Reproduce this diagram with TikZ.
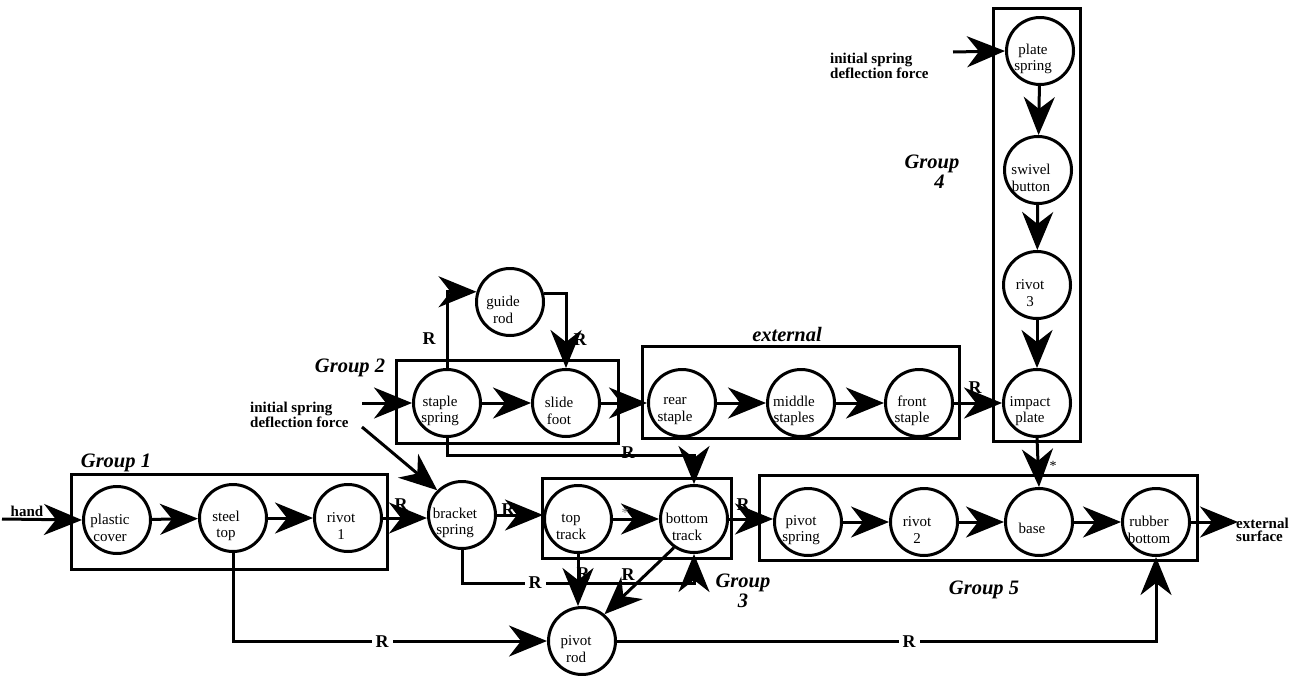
\documentclass[tikz,border=0pt]{standalone}
\usepackage{fontspec}
\setmainfont{Liberation Serif}
\usetikzlibrary{arrows.meta}
\begin{document}
\begin{tikzpicture}[x=1pt,y=-1pt,
 circ/.style={circle,draw,line width=3pt,minimum size=67pt,inner sep=0pt},
 lbl/.style={font=\fontsize{15}{16.5}\selectfont,align=center,xshift=-7pt,yshift=-8pt},
 grp/.style={draw,line width=3pt},
 arr/.style={line width=3pt,-{Stealth[length=38pt,width=31pt,inset=12pt]}},
 rl/.style={font=\fontsize{18}{18}\selectfont\bfseries,inner sep=0pt},
 rlw/.style={font=\fontsize{18}{18}\selectfont\bfseries,fill=white,inner sep=4pt},
 gl/.style={font=\fontsize{20.5}{20.5}\selectfont\bfseries\itshape,align=center,inner sep=0pt},
 bl/.style={font=\fontsize{15}{13.5}\selectfont\bfseries,align=left,inner sep=0pt},
 st/.style={font=\fontsize{14}{14}\selectfont,inner sep=0pt}
]
\useasboundingbox (0,0) rectangle (1298,675);

% group boxes
\draw[grp] (71,474) rectangle (387,569);
\draw[grp] (396,360) rectangle (618,443);
\draw[grp] (642,346) rectangle (959,438);
\draw[grp] (542,478) rectangle (731,558);
\draw[grp] (993,8) rectangle (1080,441);
\draw[grp] (759,475) rectangle (1197,560);

% circles
\node[circ,label={[lbl]center:{plastic\\cover}}] (plastic) at (117,520) {};
\node[circ,label={[lbl]center:{steel\\top}}] (steel) at (233,518) {};
\node[circ,label={[lbl]center:{rivot\\1}}] (rivot1) at (348,518) {};
\node[circ,label={[lbl]center:{bracket\\spring}}] (bracket) at (462,515) {};
\node[circ,label={[lbl]center:{top\\track}}] (toptrack) at (578,519) {};
\node[circ,label={[lbl]center:{bottom\\track}}] (bottom) at (694,519) {};
\node[circ,label={[lbl]center:{pivot\\spring}}] (pspring) at (808,522) {};
\node[circ,label={[lbl]center:{rivot\\2}}] (rivot2) at (924,522) {};
\node[circ,label={[lbl,yshift=2pt]center:{base}}] (base) at (1039,522) {};
\node[circ,label={[lbl]center:{rubber\\bottom}}] (rubber) at (1156,522) {};
\node[circ,label={[lbl]center:{staple\\spring}}] (staple) at (447,403) {};
\node[circ,label={[lbl]center:{slide\\foot}}] (slide) at (566,403) {};
\node[circ,label={[lbl]center:{rear\\staple}}] (rear) at (682,403) {};
\node[circ,label={[lbl]center:{middle\\staples}}] (middle) at (801,403) {};
\node[circ,label={[lbl]center:{front\\staple}}] (front) at (919,403) {};
\node[circ,label={[lbl]center:{impact\\plate}}] (impact) at (1037,403) {};
\node[circ,label={[lbl]center:{rivot\\3}}] (rivot3) at (1037,285) {};
\node[circ,label={[lbl]center:{swivel\\button}}] (swivel) at (1038,170) {};
\node[circ,label={[lbl]center:{plate\\spring}}] (plate) at (1040,51) {};
\node[circ,label={[lbl]center:{guide\\rod}}] (guide) at (510,302) {};
\node[circ,label={[lbl,xshift=1pt]center:{pivot\\rod}}] (pivot) at (582,641) {};

% free ends
\coordinate (handin) at (2,519);
\coordinate (ssin) at (362,403);
\coordinate (diag) at (362,427);
\coordinate (psin) at (953,52);
\coordinate (extout) at (1238,522);
\coordinate (h1) at (0,455);
\coordinate (h2) at (0,583);

% main row
\draw[arr] (handin) -- (plastic.west);
\draw[arr] (plastic) -- (steel);
\draw[arr] (steel) -- (rivot1);
\draw[arr] (rivot1.east) -- (bracket.west |- rivot1.east);
\draw[arr] (bracket.east) -- (toptrack.west |- bracket.east);
\draw[arr] (toptrack) -- (bottom);
\draw[arr] (bottom.east) -- (pspring.west |- bottom.east);
\draw[arr] (pspring) -- (rivot2);
\draw[arr] (rivot2) -- (base);
\draw[arr] (base) -- (rubber);
\draw[arr] (rubber.east) -- (extout);

% group 2 / external row
\draw[arr] (ssin) -- (staple.west);
\draw[arr] (staple) -- (slide);
\draw[arr] (slide) -- (rear);
\draw[arr] (rear) -- (middle);
\draw[arr] (middle) -- (front);
\draw[arr] (front) -- (impact);
\draw[arr] (diag) -- (bracket.135);

% guide rod loop
\draw[arr] (staple.north) |- (guide.163);
\draw[arr] (guide.14) -| (slide.north);

% staple spring to bottom track
\draw[arr] (staple.south) -- (staple.south |- h1) -| (bottom.north);
% bracket spring to bottom track
\draw[arr] (bracket.south) -- (bracket.south |- h2) -| (bottom.south);
% to pivot rod
\draw[arr] (toptrack.south) -- (toptrack.south |- pivot.north);
\draw[arr] (bottom.235) -- (pivot.50);
\draw[arr] (steel.south) |- (pivot.west);
\draw[arr] (pivot.east) -| (rubber.south);

% group 4 column
\draw[arr] (psin) -- (plate.west);
\draw[arr] (plate) -- (swivel);
\draw[arr] (swivel) -- (rivot3);
\draw[arr] (rivot3) -- (impact);
\draw[arr] (impact.south) -- (base.north);

% R labels
\node[rl] (ra) at (401,505) {R};
\node[rl] (rb) at (508,510) {R};
\node[rl] (rc) at (743,505) {R};
\node[rl] (rd) at (975,388) {R};
\node[rl] (re) at (429,339) {R};
\node[rl] (rf) at (580,340) {R};
\node[rl] (rg) at (628,453) {R};
\node[rl] (rh) at (583,574) {R};
\node[rl] (ri) at (628,575) {R};
\node[rlw] (rj) at (535,583) {R};
\node[rlw] (rk) at (382,642) {R};
\node[rlw] (rm) at (909,642) {R};
\node[st,gray] (s1) at (625,513) {*};
\node[st] (s2) at (1053,466) {*};

% texts
\node[bl] (hand) at (27,511) {hand};
\node[bl,anchor=west] (isd1) at (250,415) {initial spring\\deflection force};
\node[bl,anchor=west] (isd2) at (830,66) {initial spring\\deflection force};
\node[bl,anchor=west] (exts) at (1236,530) {external\\surface};

% group labels
\node[gl] (g1) at (116,463) {Group 1};
\node[gl] (g2) at (350,368) {Group 2};
\node[gl] (gx) at (787,334) {external};
\node[gl] (g3) at (743,591) {Group\\3};
\node[gl] (g4) at (932,172) {Group\\\phantom{G}4};
\node[gl] (g5) at (984,590) {Group 5};
\end{tikzpicture}
\end{document}
